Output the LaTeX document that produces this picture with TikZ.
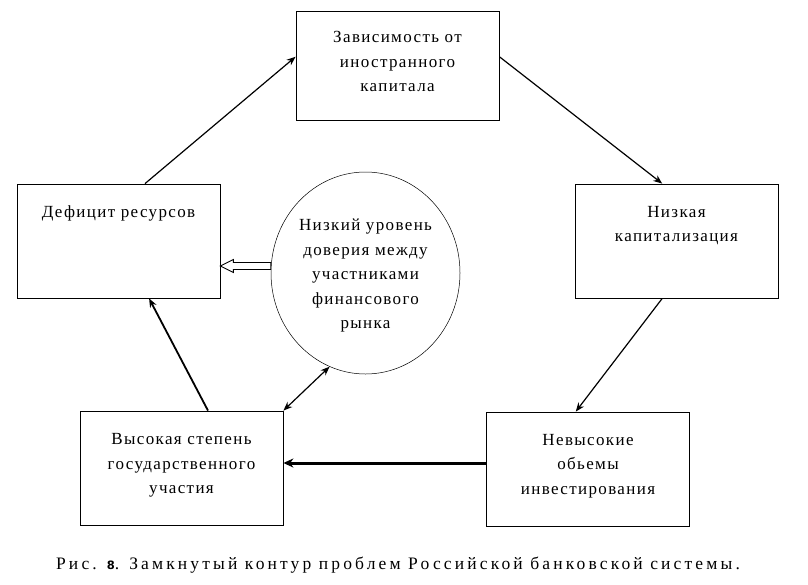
\documentclass[tikz,border=0pt]{standalone}
\usepackage{fontspec}
\setmainfont{Liberation Serif}
\newfontfamily\bodyfont[LetterSpace=8]{Liberation Serif}
\newfontfamily\capfont[LetterSpace=18]{Liberation Serif}
\newfontfamily\capnum{DejaVu Sans}
\usetikzlibrary{shapes.geometric,arrows.meta,calc}
\tikzset{
  box/.style={draw, line width=0.8pt, rectangle, inner sep=0pt, minimum width=203pt, minimum height=114pt},
  txt/.style={align=center, font=\bodyfont\fontsize{17}{24.5}\selectfont, inner sep=0pt},
  arr/.style={line width=1.2pt, -{Stealth[length=9pt,width=7pt]}},
  thick arr/.style={line width=3pt, -{Stealth[length=10pt,width=9pt]}},
  mid arr/.style={line width=1.8pt, -{Stealth[length=9pt,width=7pt]}},
  dbl arr/.style={line width=1.2pt, {Stealth[length=9pt,width=7pt]}-{Stealth[length=9pt,width=7pt]}},
}
\begin{document}
\begin{tikzpicture}[x=1pt,y=-1pt]
\useasboundingbox (0,0) rectangle (808,584);
\fill[white] (0,0) rectangle (808,584);
% boxes
\node[box, minimum height=109pt] (T) at (397.5,65.5) {};
\node[box] (L) at (118.5,241) {};
\node[box] (R) at (676.5,241) {};
\node[box] (BL) at (181.5,468) {};
\node[box] (BR) at (588,469) {};
\node[draw, line width=0.5pt, ellipse, inner sep=0pt, minimum width=189pt, minimum height=202pt] (E) at (365.5,273) {};
% texts
\node[txt] (tT) at (397.5,61.5) {Зависимость от\\иностранного\\капитала};
\node[txt] (tL) at (118.5,213) {Дефицит ресурсов};
\node[txt] (tR) at (676.5,225.5) {Низкая\\капитализация};
\node[txt] (tE) at (365.5,275.5) {Низкий уровень\\доверия между\\участниками\\финансового\\рынка};
\node[txt] (tBL) at (181.5,465.5) {Высокая степень\\государственного\\участия};
\node[txt] (tBR) at (588,466) {Невысокие\\обьемы\\инвестирования};
\node[font=\capfont\fontsize{17.5}{20}\selectfont, inner sep=0pt] (cap) at (398,565) {Рис. {\capnum\fontsize{11.5}{14}\selectfont\bfseries 8}. Замкнутый контур проблем Российской банковской системы.};
% connectors
\draw[arr] ($(L.north west)!0.63!(L.north east)$) -- ($(T.north west)!0.42!(T.south west)$);
\draw[arr] ($(T.north east)!0.42!(T.south east)$) -- ($(R.north west)!0.43!(R.north east)$);
\draw[arr] ($(R.south west)!0.43!(R.south east)$) -- ($(BR.north west)!0.44!(BR.north east)$);
\draw[thick arr] ($(BR.west)+(0,-6)$) -- ($(BL.east)+(0,-5)$);
\draw[mid arr] ($(BL.north west)!0.63!(BL.north east)$) -- ($(L.south west)!0.65!(L.south east)$);
\draw[dbl arr] (E.249) -- (BL.north east);
% hollow arrow
\coordinate (hs) at ($(E.west)+(0,-7)$);
\coordinate (ht) at ($(L.east)+(0,25)$);
\draw[line width=0.9pt, fill=white] ($(hs)+(0,-3.5)$) -- ($(ht)+(13,-3.5)$) -- ($(ht)+(13,-6.5)$) -- (ht) -- ($(ht)+(13,6.5)$) -- ($(ht)+(13,3.5)$) -- ($(hs)+(0,3.5)$) -- cycle;
\end{tikzpicture}
\end{document}
